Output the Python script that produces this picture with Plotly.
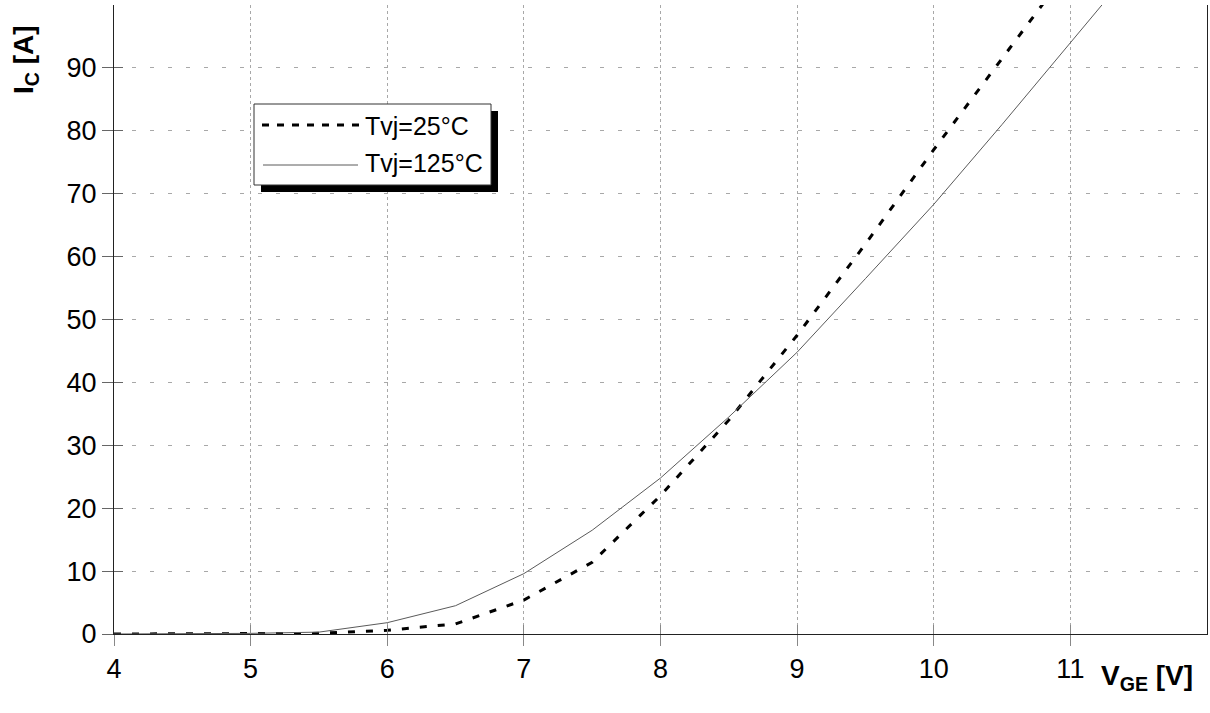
import plotly.graph_objects as go

# ---- data ----
vge = [4.0, 4.5, 5.0, 5.5, 6.0, 6.5, 7.0, 7.5, 8.0, 8.5, 9.0, 9.5, 10.0, 10.5, 11.0]
ic_25 = [0.0, 0.0, 0.0, 0.1, 0.6, 1.6, 5.4, 11.4, 22.0, 34.0, 47.5, 62.0, 77.0, 91.5, 106.0]
vge_125 = [4.0, 4.5, 5.0, 5.5, 6.0, 6.5, 7.0, 7.5, 8.0, 8.5, 9.0, 9.5, 10.0, 10.5, 11.0, 11.5]
ic_125 = [0.0, 0.0, 0.1, 0.3, 1.8, 4.5, 9.6, 16.5, 24.8, 34.5, 44.8, 56.5, 68.3, 81.0, 94.0, 107.0]
series_names = ["Tvj=25°C", "Tvj=125°C"]
x_ticks = [4, 5, 6, 7, 8, 9, 10, 11]
y_ticks = [0, 10, 20, 30, 40, 50, 60, 70, 80, 90]

W, H = 1210, 713
L, R, T, B = 114, 3, 5, 79
pw, ph = W - L - R, H - T - B

def px(x):
    return (x - L) / pw

def py(y):
    return (H - B - y) / ph

FONT = "Arial, Liberation Sans, sans-serif"
DASH = "7px,11px"

fig = go.Figure()
fig.add_trace(go.Scatter(x=vge, y=ic_25, mode="lines", name=series_names[0],
                         line=dict(color="black", width=3, dash=DASH), showlegend=False))
fig.add_trace(go.Scatter(x=vge_125, y=ic_125, mode="lines", name=series_names[1],
                         line=dict(color="#5a5a5a", width=1), showlegend=False))

fig.update_layout(
    width=W, height=H,
    margin=dict(l=L, r=R, t=T, b=B),
    paper_bgcolor="white", plot_bgcolor="white",
    font=dict(family=FONT, size=27, color="black"),
    xaxis=dict(range=[4, 12], tickvals=x_ticks, ticks="outside", ticklen=11, tickcolor="#888888",
               showline=True, linecolor="#222222", linewidth=1, mirror=False,
               showgrid=True, gridcolor="#a8a8a8", gridwidth=1, griddash="3px,3px",
               zeroline=False, tickfont=dict(size=27), fixedrange=True),
    yaxis=dict(range=[0, 100], tickvals=y_ticks, ticks="outside", ticklen=11, tickcolor="#666666",
               showline=True, linecolor="#222222", linewidth=1, mirror=True,
               showgrid=True, gridcolor="#a8a8a8", gridwidth=1, griddash="4px,14px",
               zeroline=False, tickfont=dict(size=27), fixedrange=True),
    xaxis2=dict(range=[4, 12], tickvals=x_ticks, ticks="inside", ticklen=9, tickcolor="#888888",
                showticklabels=False, showgrid=False, zeroline=False, overlaying="x", anchor="y",
                fixedrange=True),
    yaxis2=dict(range=[0, 100], tickvals=y_ticks, ticks="inside", ticklen=9, tickcolor="#666666",
                showticklabels=False, showgrid=False, zeroline=False, overlaying="y", anchor="x",
                fixedrange=True),
)
# invisible trace to activate the overlay axes (inner half of the crossing ticks)
fig.add_trace(go.Scatter(x=[4], y=[0], xaxis="x2", yaxis="y2", mode="markers",
                         marker=dict(opacity=0), showlegend=False, hoverinfo="skip"))

# axis titles
fig.add_annotation(text="<b>I<sub>C</sub> [A]</b>", xref="paper", yref="paper",
                   x=px(26), y=py(60), textangle=-90, showarrow=False,
                   font=dict(size=28, family=FONT), xanchor="center", yanchor="middle")
fig.add_annotation(text="<b>V<sub>GE</sub> [V]</b>", xref="paper", yref="paper",
                   x=px(1147), y=py(677), showarrow=False,
                   font=dict(size=28, family=FONT), xanchor="center", yanchor="middle")

# legend box with drop shadow
bx0, by0, bx1, by1 = 254, 104, 491, 185
fig.add_shape(type="rect", xref="paper", yref="paper",
              x0=px(bx0 + 7), x1=px(bx1 + 7), y0=py(by1 + 7), y1=py(by0 + 7),
              fillcolor="black", line=dict(width=0), layer="above")
fig.add_shape(type="rect", xref="paper", yref="paper",
              x0=px(bx0), x1=px(bx1), y0=py(by1), y1=py(by0),
              fillcolor="white", line=dict(color="#333333", width=1), layer="above")
fig.add_shape(type="line", xref="paper", yref="paper",
              x0=px(262), x1=px(362), y0=py(125), y1=py(125),
              line=dict(color="black", width=3, dash="7px,8px"), layer="above")
fig.add_shape(type="line", xref="paper", yref="paper",
              x0=px(263), x1=px(358), y0=py(165), y1=py(165),
              line=dict(color="#5a5a5a", width=1), layer="above")
fig.add_annotation(text=series_names[0], xref="paper", yref="paper", x=px(363), y=py(126),
                   xanchor="left", yanchor="middle", showarrow=False, font=dict(size=25, family=FONT))
fig.add_annotation(text=series_names[1], xref="paper", yref="paper", x=px(363), y=py(163),
                   xanchor="left", yanchor="middle", showarrow=False, font=dict(size=25, family=FONT))

fig.write_html("out.html", config={"displayModeBar": False},
               post_script="document.body.style.margin='0px';")
